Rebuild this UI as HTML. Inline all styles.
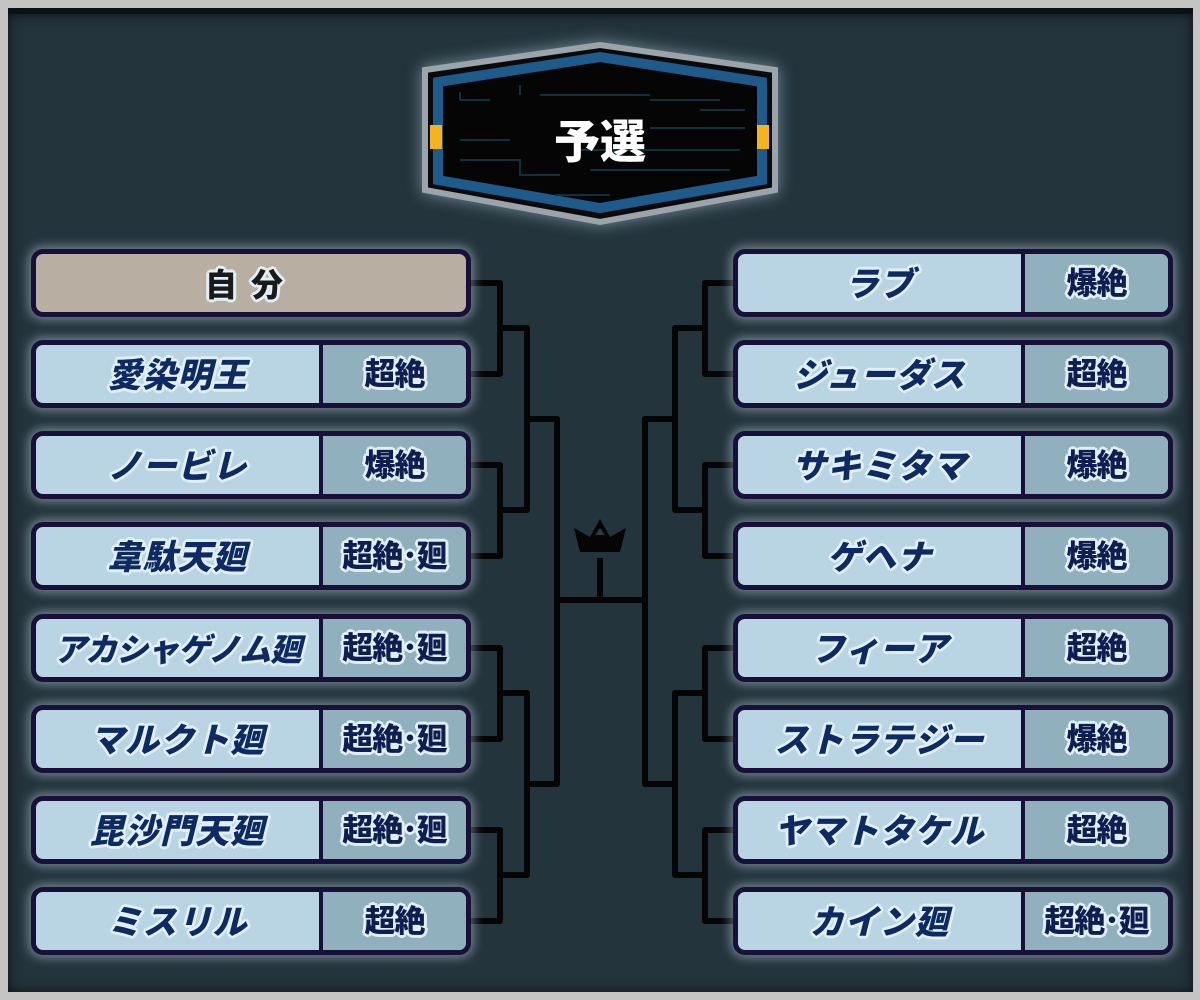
<!DOCTYPE html>
<html><head><meta charset="utf-8"><style>
html,body{margin:0;padding:0}
body{width:1200px;height:1000px;background:#c4c4c4;position:relative;overflow:hidden;font-family:"Liberation Sans","Noto Sans CJK JP",sans-serif}
#bg{position:absolute;left:8px;top:8px;width:1185px;height:984px;background:#24343c;box-shadow:inset 0 0 12px #0a1014;border-top:6px solid #0b1216;box-sizing:border-box}
.b{position:absolute;box-sizing:border-box;height:68px;width:440px;border:5px solid #181038;border-radius:12px;background:#b9d4e3;box-shadow:0 0 10px 3px rgba(200,225,240,.45);overflow:hidden}
.n{position:absolute;left:0;top:2px;height:58px;line-height:58px;width:283px;text-align:center;font-weight:900;font-size:34px;color:#0d2a62;font-style:italic;letter-spacing:1px;white-space:nowrap;text-shadow:0 0 2px #e8f4fb,2px 2px 0 #e0eef6,-2px -2px 0 #e0eef6,2px -2px 0 #e0eef6,-2px 2px 0 #e0eef6,0 3px 0 #e0eef6,0 -3px 0 #e0eef6,3px 0 0 #e0eef6,-3px 0 0 #e0eef6}
.t{position:absolute;left:283px;top:0;right:0;height:58px;line-height:60px;background:#90b0be;border-left:4px solid #181038;text-align:center;font-weight:900;font-size:31px;color:#0f1e50;white-space:nowrap;letter-spacing:-1px;text-shadow:2px 2px 0 #e0eef6,-2px -2px 0 #e0eef6,2px -2px 0 #e0eef6,-2px 2px 0 #e0eef6,0 3px 0 #e0eef6,0 -3px 0 #e0eef6,3px 0 0 #e0eef6,-3px 0 0 #e0eef6}
.self{background:#b8afa2}
.self .n{width:100%;color:#1a1a1a;font-style:normal;letter-spacing:14px;font-size:32px}
</style></head><body>
<div id="bg"></div>
<svg width="1200" height="1000" style="position:absolute;left:0;top:0">
<g fill="none" stroke="#050505" stroke-width="6" stroke-linejoin="round">
<path d="M470 283H500V374H470M470 465H500V556H470M470 648H500V739H470M470 830H500V921H470"/>
<path d="M500 328H527V510H500M500 693H527V875H500"/>
<path d="M527 419H557V784H527M557 600H645"/>
<path d="M733 283H705V374H733M733 465H705V556H733M733 648H705V739H733M733 830H705V921H733"/>
<path d="M705 328H675V510H705M705 693H675V875H705"/>
<path d="M675 419H645V784H675"/>
<path d="M600 558V600"/>
</g>
<path d="M574 528L590 537L600 519L610 537L626 528L620 552H580Z" fill="#050505"/>
<path d="M600 528L605 535H595Z" fill="#2a3a42"/>
<g>
<path d="M425 70L600 45L775 70V190L600 222L425 190Z" fill="#0a0a0a" stroke="#9aa4aa" stroke-width="6" style="filter:drop-shadow(0 0 8px rgba(200,230,245,.5))"/>
<path d="M438 82L600 57L762 82V180L600 208L438 180Z" fill="#050505" stroke="#1e5a8a" stroke-width="10"/>
<g stroke="#10303d" stroke-width="2" fill="none"><path d="M460 92V100H490M520 85V95M540 95H650M650 100H720M700 110H745M650 128H745M460 140H510M460 160H520V175H560M580 150H740M590 170H730M555 195H610"/></g>
<rect x="430" y="125" width="12" height="24" fill="#f5b320"/>
<rect x="757" y="125" width="12" height="24" fill="#f5b320"/>
<text x="600" y="158" text-anchor="middle" font-family="Noto Sans CJK JP,sans-serif" font-weight="900" font-size="46" fill="#fff">予選</text>
</g>
</svg>
<div class="b self" style="left:31px;top:249px"><div class="n">自分</div></div>
<div class="b" style="left:31px;top:340px"><div class="n">愛染明王</div><div class="t">超絶</div></div>
<div class="b" style="left:31px;top:431px"><div class="n">ノービレ</div><div class="t">爆絶</div></div>
<div class="b" style="left:31px;top:522px"><div class="n">韋駄天廻</div><div class="t">超絶･廻</div></div>
<div class="b" style="left:31px;top:614px"><div class="n" style="letter-spacing:-1px;font-size:32px">アカシャゲノム廻</div><div class="t">超絶･廻</div></div>
<div class="b" style="left:31px;top:705px"><div class="n">マルクト廻</div><div class="t">超絶･廻</div></div>
<div class="b" style="left:31px;top:796px"><div class="n">毘沙門天廻</div><div class="t">超絶･廻</div></div>
<div class="b" style="left:31px;top:887px"><div class="n">ミスリル</div><div class="t">超絶</div></div>
<div class="b" style="left:733px;top:249px"><div class="n">ラブ</div><div class="t">爆絶</div></div>
<div class="b" style="left:733px;top:340px"><div class="n">ジューダス</div><div class="t">超絶</div></div>
<div class="b" style="left:733px;top:431px"><div class="n">サキミタマ</div><div class="t">爆絶</div></div>
<div class="b" style="left:733px;top:522px"><div class="n">ゲヘナ</div><div class="t">爆絶</div></div>
<div class="b" style="left:733px;top:614px"><div class="n">フィーア</div><div class="t">超絶</div></div>
<div class="b" style="left:733px;top:705px"><div class="n">ストラテジー</div><div class="t">爆絶</div></div>
<div class="b" style="left:733px;top:796px"><div class="n">ヤマトタケル</div><div class="t">超絶</div></div>
<div class="b" style="left:733px;top:887px"><div class="n">カイン廻</div><div class="t">超絶･廻</div></div>
</body></html>
